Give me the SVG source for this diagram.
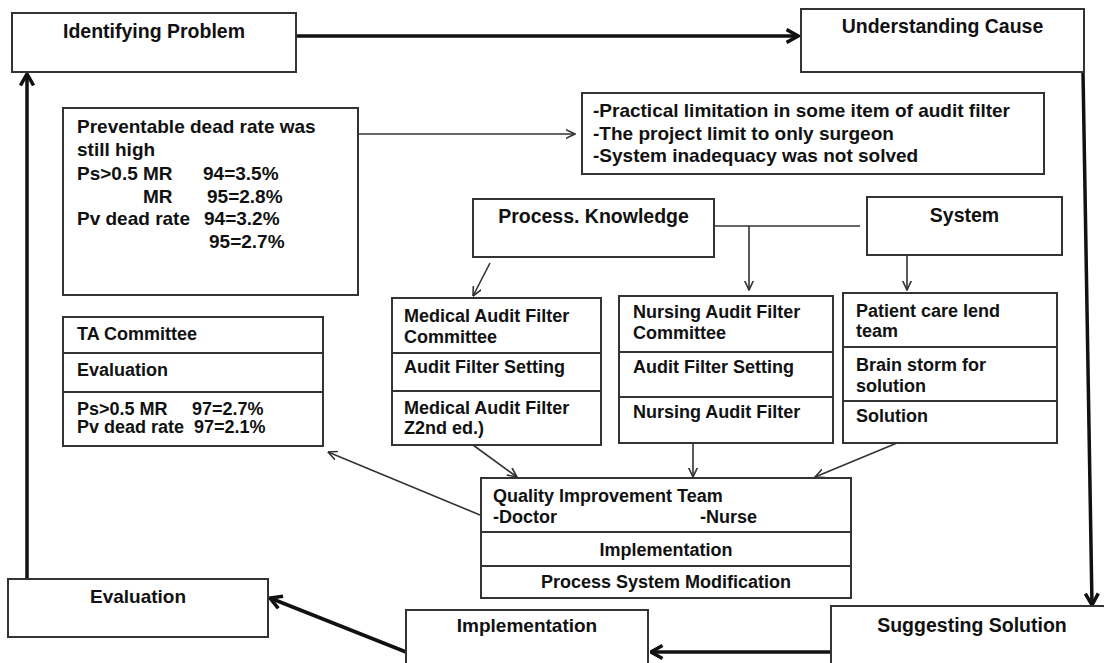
<svg xmlns="http://www.w3.org/2000/svg" width="1104" height="663" viewBox="0 0 1104 663">
<style>
  .box { fill: #fff; stroke: #333; stroke-width: 2; }
  .sep { stroke: #333; stroke-width: 2; }
  text { font-family: "Liberation Sans", Arial, sans-serif; font-weight: bold; fill: #111; }
  .t { font-size: 19.5px; }
  .m { font-size: 19px; }
  .s { font-size: 18px; }
  .c { text-anchor: middle; }
  .thin { stroke: #333; stroke-width: 1.6; fill: none; }
  .thick { stroke: #111; stroke-width: 3.5; fill: none; }
</style>
<defs>
  <marker id="a" viewBox="0 0 10 10" refX="9.5" refY="5" markerWidth="10" markerHeight="10" markerUnits="userSpaceOnUse" orient="auto">
    <path d="M0,0.5 L9.5,5 L0,9.5" fill="none" stroke="#333" stroke-width="1.6"/>
  </marker>
  <marker id="A" viewBox="0 0 14 16" refX="12.5" refY="8" markerWidth="14" markerHeight="16" markerUnits="userSpaceOnUse" orient="auto">
    <path d="M1,1.5 L12.5,8 L1,14.5" fill="none" stroke="#111" stroke-width="3.5"/>
  </marker>
</defs>
<rect width="1104" height="663" fill="#fff"/>

<g id="connectors">
  <line class="thick" x1="296" y1="36" x2="798" y2="36" marker-end="url(#A)"/>
  <line class="thick" x1="1083" y1="72" x2="1092" y2="605" marker-end="url(#A)"/>
  <line class="thick" x1="831" y1="652" x2="651" y2="652" marker-end="url(#A)"/>
  <line class="thick" x1="406" y1="652" x2="270" y2="598" marker-end="url(#A)"/>
  <line class="thick" x1="27" y1="579" x2="27" y2="74" marker-end="url(#A)"/>
  <line class="thin" x1="352" y1="134" x2="575" y2="134" marker-end="url(#a)"/>
  <line class="thin" x1="490" y1="263" x2="473" y2="296" marker-end="url(#a)"/>
  <line class="thin" x1="703" y1="226" x2="860" y2="226"/>
  <line class="thin" x1="749" y1="226" x2="749" y2="290" marker-end="url(#a)"/>
  <line class="thin" x1="907" y1="254" x2="907" y2="290" marker-end="url(#a)"/>
  <line class="thin" x1="473" y1="445" x2="517" y2="477" marker-end="url(#a)"/>
  <line class="thin" x1="693" y1="443" x2="693" y2="477" marker-end="url(#a)"/>
  <line class="thin" x1="897" y1="443" x2="815" y2="477" marker-end="url(#a)"/>
  <line class="thin" x1="480" y1="515" x2="328" y2="452" marker-end="url(#a)"/>
</g>

<g id="identifying-problem">
  <rect class="box" x="12" y="13" width="284" height="59"/>
  <text class="t c" x="154" y="38">Identifying Problem</text>
</g>

<g id="understanding-cause">
  <rect class="box" x="801" y="9" width="283" height="63"/>
  <text class="t c" x="942.5" y="33">Understanding Cause</text>
</g>

<g id="preventable">
  <rect class="box" x="63" y="108" width="295" height="187"/>
  <text class="m" x="77" y="133">Preventable dead rate was</text>
  <text class="m" x="77" y="156">still high</text>
  <text class="m" x="77" y="180">Ps&gt;0.5 MR</text>
  <text class="m" x="203" y="180">94=3.5%</text>
  <text class="m" x="143" y="203">MR</text>
  <text class="m" x="207" y="203">95=2.8%</text>
  <text class="m" x="77" y="225">Pv dead rate</text>
  <text class="m" x="204" y="225">94=3.2%</text>
  <text class="m" x="209" y="248">95=2.7%</text>
</g>

<g id="causes">
  <rect class="box" x="582" y="93" width="462" height="81"/>
  <text class="m" x="593" y="117">-Practical limitation in some item of audit filter</text>
  <text class="m" x="593" y="140">-The project limit to only surgeon</text>
  <text class="m" x="593" y="162">-System inadequacy was not solved</text>
</g>

<g id="process-knowledge">
  <rect class="box" x="473" y="199" width="241" height="58"/>
  <text class="t c" x="593.5" y="223">Process. Knowledge</text>
</g>

<g id="system">
  <rect class="box" x="867" y="197" width="195" height="58"/>
  <text class="t c" x="964.5" y="222">System</text>
</g>

<g id="ta-committee">
  <rect class="box" x="63" y="317" width="260" height="129"/>
  <line class="sep" x1="63" y1="353" x2="323" y2="353"/>
  <line class="sep" x1="63" y1="392" x2="323" y2="392"/>
  <text class="s" x="77" y="340">TA Committee</text>
  <text class="s" x="77" y="376">Evaluation</text>
  <text class="s" x="77" y="415">Ps&gt;0.5 MR</text>
  <text class="s" x="192" y="415">97=2.7%</text>
  <text class="s" x="77" y="433">Pv dead rate</text>
  <text class="s" x="194" y="433">97=2.1%</text>
</g>

<g id="medical-audit">
  <rect class="box" x="392" y="298" width="209" height="147"/>
  <line class="sep" x1="392" y1="353" x2="601" y2="353"/>
  <line class="sep" x1="392" y1="391" x2="601" y2="391"/>
  <text class="s" x="404" y="322">Medical Audit Filter</text>
  <text class="s" x="404" y="343">Committee</text>
  <text class="s" x="404" y="373">Audit Filter Setting</text>
  <text class="s" x="404" y="414">Medical Audit Filter</text>
  <text class="s" x="404" y="434">Z2nd ed.)</text>
</g>

<g id="nursing-audit">
  <rect class="box" x="619" y="296" width="214" height="147"/>
  <line class="sep" x1="619" y1="352" x2="833" y2="352"/>
  <line class="sep" x1="619" y1="397" x2="833" y2="397"/>
  <text class="s" x="633" y="318">Nursing Audit Filter</text>
  <text class="s" x="633" y="339">Committee</text>
  <text class="s" x="633" y="373">Audit Filter Setting</text>
  <text class="s" x="633" y="418">Nursing Audit Filter</text>
</g>

<g id="patient-care">
  <rect class="box" x="843" y="293" width="214" height="150"/>
  <line class="sep" x1="843" y1="347" x2="1057" y2="347"/>
  <line class="sep" x1="843" y1="401" x2="1057" y2="401"/>
  <text class="s" x="856" y="317">Patient care lend</text>
  <text class="s" x="856" y="337">team</text>
  <text class="s" x="856" y="371">Brain storm for</text>
  <text class="s" x="856" y="392">solution</text>
  <text class="s" x="856" y="422">Solution</text>
</g>

<g id="quality-team">
  <rect class="box" x="481" y="478" width="370" height="120"/>
  <line class="sep" x1="481" y1="532" x2="851" y2="532"/>
  <line class="sep" x1="481" y1="566" x2="851" y2="566"/>
  <text class="s" x="493" y="502">Quality Improvement Team</text>
  <text class="s" x="493" y="523">-Doctor</text>
  <text class="s" x="700" y="523">-Nurse</text>
  <text class="s c" x="666" y="556">Implementation</text>
  <text class="s c" x="666" y="588">Process System Modification</text>
</g>

<g id="evaluation">
  <rect class="box" x="8" y="579" width="260" height="58"/>
  <text class="m c" x="138" y="603">Evaluation</text>
</g>

<g id="implementation">
  <rect class="box" x="406" y="610" width="242" height="70"/>
  <text class="m c" x="527" y="632">Implementation</text>
</g>

<g id="suggesting-solution">
  <rect class="box" x="831" y="606" width="290" height="80"/>
  <text class="t c" x="972" y="632">Suggesting Solution</text>
</g>
</svg>
